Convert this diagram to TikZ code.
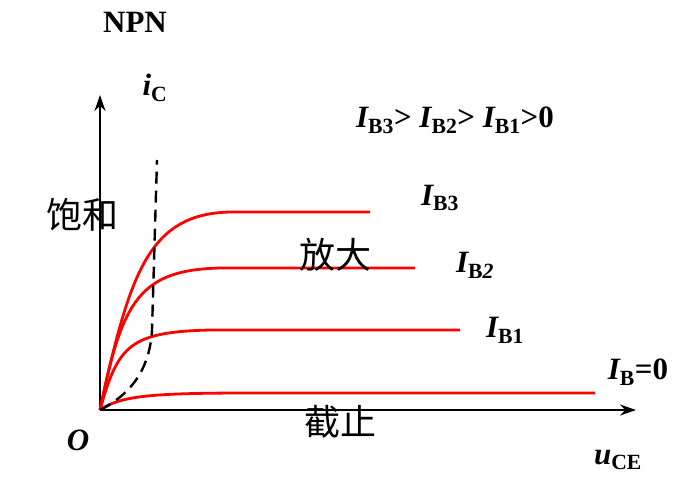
\documentclass[tikz,border=0pt]{standalone}
\usepackage{fontspec}
\setmainfont{Liberation Serif}
\newfontfamily\cjk{Noto Sans CJK SC}
\usetikzlibrary{arrows.meta}
\begin{document}
\begin{tikzpicture}[x=1pt,y=-1pt,
  curve/.style={red,line width=2.8pt},
  lab/.style={font=\bfseries\fontsize{31}{33}\selectfont,inner sep=0pt},
  cn/.style={font=\cjk\fontsize{36}{38}\selectfont,inner sep=0pt}]
\useasboundingbox (0,0) rectangle (686,480);
\coordinate (o) at (100,410);
\coordinate (ye) at (100,95);
\coordinate (xe) at (636,410);
\draw[line width=2.4pt,-{Stealth[length=16pt,width=11pt]}] (o) -- (ye);
\draw[line width=2.4pt,-{Stealth[length=16pt,width=11pt]}] (o) -- (xe);
\draw[curve] (o) .. controls (130,270) and (150,214) .. (230,212) -- (370,212);
\draw[curve] (o) .. controls (122,300) and (140,270) .. (220,268) -- (415,268);
\draw[curve] (o) .. controls (118,345) and (130,332) .. (210,330) -- (460,330);
\draw[curve] (o) .. controls (120,396) and (150,393) .. (250,393) -- (595,393);
\draw[line width=2.4pt,dash pattern=on 12pt off 7pt] (o) .. controls (135,392) and (150,365) .. (152,330) -- (157,160);
\node[lab] (npn) at (135,22) {NPN};
\node[lab] (ic) at (155,88) {\itshape i\textsubscript{\upshape C}};
\node[lab] (rel) at (455,120) {\itshape I\textsubscript{\upshape B3}\upshape > \itshape I\textsubscript{\upshape B2}\upshape > \itshape I\textsubscript{\upshape B1}\upshape >0};
\node[lab] (b3) at (440,198) {\itshape I\textsubscript{\upshape B3}};
\node[lab] (b2) at (475,265) {\itshape I\textsubscript{\upshape B\itshape 2}};
\node[lab] (b1) at (505,330) {\itshape I\textsubscript{\upshape B1}};
\node[lab] (b0) at (638,372) {\itshape I\textsubscript{\upshape B}\upshape =0};
\node[lab] (O) at (78,440) {\itshape O};
\node[lab] (uce) at (618,460) {\itshape u\textsubscript{\upshape CE}};
\node[cn] (sat) at (82,215) {饱和};
\node[cn] (amp) at (335,255) {放大};
\node[cn] (cut) at (340,422) {截止};
\end{tikzpicture}
\end{document}
